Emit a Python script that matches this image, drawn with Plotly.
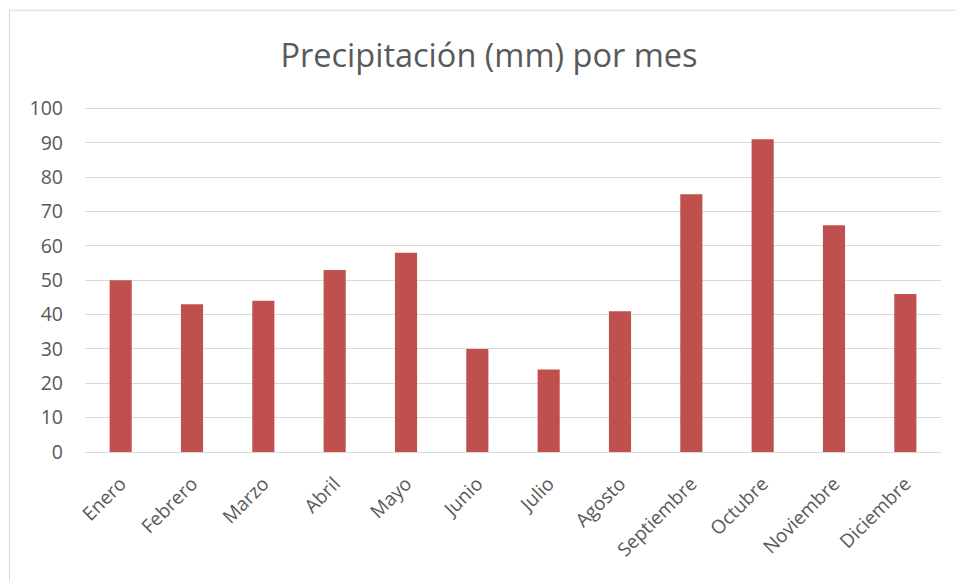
import plotly.graph_objects as go

# Monthly precipitation (mm)
meses = ["Enero", "Febrero", "Marzo", "Abril", "Mayo", "Junio", "Julio",
         "Agosto", "Septiembre", "Octubre", "Noviembre", "Diciembre"]
precipitacion = [50, 43, 44, 53, 58, 30, 24, 41, 75, 91, 66, 46]
y_ticks = [0, 10, 20, 30, 40, 50, 60, 70, 80, 90, 100]

W, H = 956, 581
y_max = 101
unit_px = 3.436  # pixels per mm on the value axis
L, R, B = 85, 15.3, 128.7
T = 108.7 - (y_max - 100) * unit_px
pw, ph = W - L - R, H - T - B

def px_x(p):
    return (p - L) / pw

def px_y(p):
    return (H - B - p) / ph

text_color = "#595959"
font_family = "Open Sans, Noto Sans, sans-serif"

fig = go.Figure(
    go.Bar(
        x=meses,
        y=precipitacion,
        marker=dict(color="#C0504D", line=dict(width=0)),
        width=0.31,
    )
)

fig.update_layout(
    width=W,
    height=H,
    margin=dict(l=L, r=R, t=T, b=B),
    paper_bgcolor="white",
    plot_bgcolor="white",
    showlegend=False,
    font=dict(family=font_family, color=text_color),
    title=dict(
        text="Precipitación (mm) por mes",
        x=489 / W,
        xanchor="center",
        y=1 - 56 / H,
        yanchor="middle",
        font=dict(size=32.5, color=text_color, family=font_family),
    ),
    xaxis=dict(
        showgrid=False,
        showline=False,
        zeroline=False,
        tickangle=-45,
        tickfont=dict(size=19, color=text_color),
        ticks="",
        ticklabelstandoff=16,
    ),
    yaxis=dict(
        range=[0, y_max],
        tickvals=y_ticks,
        showgrid=True,
        gridcolor="#D9D9D9",
        gridwidth=1,
        zeroline=True,
        zerolinecolor="#D9D9D9",
        zerolinewidth=1,
        showline=False,
        ticks="",
        tickfont=dict(size=19.5, color=text_color),
        ticklabelstandoff=21,
    ),
    shapes=[
        dict(
            type="rect",
            xref="paper",
            yref="paper",
            x0=px_x(9.5),
            x1=px_x(970),
            y0=px_y(10.5),
            y1=px_y(600),
            line=dict(color="#D9D9D9", width=1),
            fillcolor="rgba(0,0,0,0)",
            layer="below",
        )
    ],
)

fig.write_html("out.html")
